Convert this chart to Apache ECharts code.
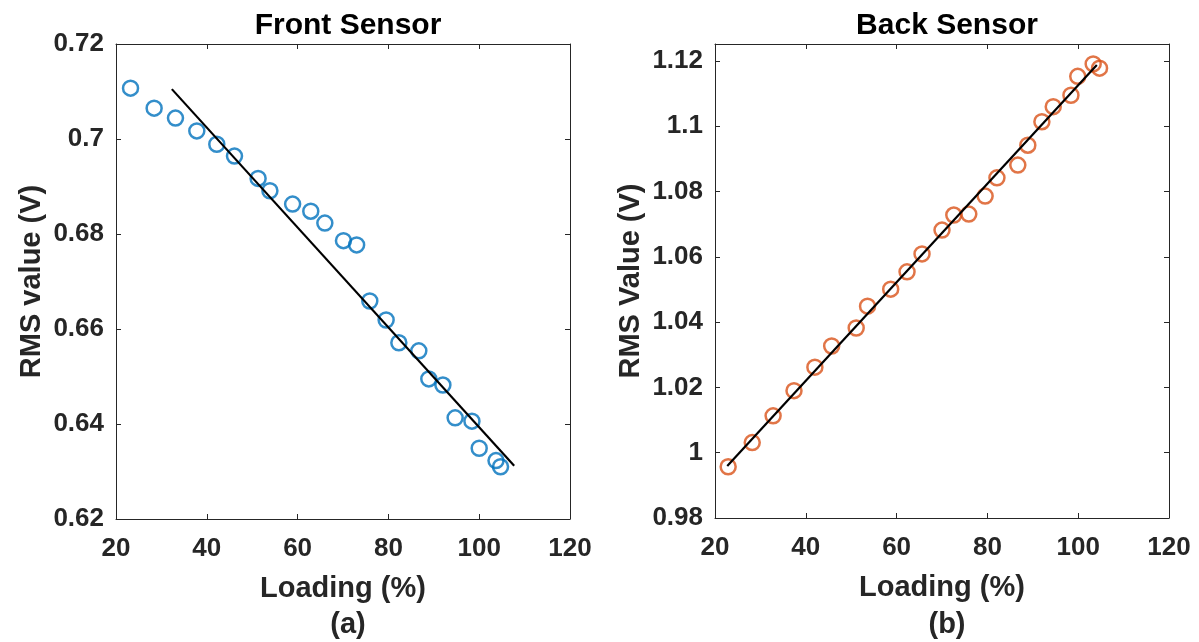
<!DOCTYPE html>
<html>
<head>
<meta charset="utf-8">
<script src="https://cdn.jsdelivr.net/npm/echarts@6/dist/echarts.min.js"></script>
<style>
html,body{margin:0;padding:0;background:#fff;}
#chart{width:1199px;height:642px;}
</style>
</head>
<body>
<div id="chart"></div>
<script>
// Front sensor (a)
var frontX = [23.2, 28.4, 33.1, 37.8, 42.2, 46.1, 51.3, 53.9, 58.9, 62.9, 66.0, 70.1, 73.0,
	75.9, 79.5, 82.3, 86.7, 88.9, 92.0, 94.7, 98.4, 100.0, 103.7, 104.7];
var frontY = [0.7107, 0.7065, 0.7044, 0.7017, 0.6989, 0.6964, 0.6917, 0.6891, 0.6863, 0.6848, 0.6823, 0.6786, 0.6777,
	0.6659, 0.6619, 0.6571, 0.6554, 0.6495, 0.6482, 0.6413, 0.6406, 0.6349, 0.6323, 0.6310];
var frontFitX = [32.3, 107.7];
var frontFitY = [0.7105, 0.6312];

// Back sensor (b)
var backX = [22.9, 28.2, 32.8, 37.4, 42.0, 45.7, 51.1, 53.6, 58.7, 62.3, 65.6, 70.0, 72.6,
	75.9, 79.5, 82.1, 86.7, 88.9, 92.0, 94.5, 98.4, 99.9, 103.3, 104.7];
var backY = [0.9957, 1.0031, 1.0113, 1.0190, 1.0262, 1.0327, 1.0382, 1.0449, 1.0501, 1.0554, 1.0609, 1.0682, 1.0728,
	1.0731, 1.0786, 1.0842, 1.0881, 1.0942, 1.1014, 1.1060, 1.1095, 1.1153, 1.1191, 1.1178];
var backFitX = [22.7, 104.1];
var backFitY = [0.9959, 1.1188];

function pairs(xs, ys) {
	var out = [];
	for (var i = 0; i < xs.length; i++) out.push([xs[i], ys[i]]);
	return out;
}

var FONT = '"Liberation Sans", Arial, sans-serif';
var AXC = '#262626';

function fmt(v) {
	return String(+v.toFixed(2));
}

// bottom / left axes carry labels, top / right ones only the box and ticks
function xAxisOf(grid, pos, name) {
	return {
		gridIndex: grid, type: 'value', position: pos, min: 20, max: 120, interval: 20,
		name: name || '', nameLocation: 'middle', nameGap: 55,
		nameTextStyle: {fontFamily: FONT, fontWeight: 'bold', fontSize: 29, color: AXC},
		axisLine: {show: true, onZero: false, lineStyle: {color: AXC, width: 1}},
		axisTick: {show: true, inside: true, length: 5, lineStyle: {color: AXC}},
		axisLabel: {show: pos == 'bottom', margin: 17, fontFamily: FONT, fontWeight: 'bold', fontSize: 26, color: AXC},
		splitLine: {show: false}
	};
}
function yAxisOf(grid, pos, min, max, name) {
	return {
		gridIndex: grid, type: 'value', position: pos, min: min, max: max, interval: 0.02,
		name: name || '', nameLocation: 'middle', nameGap: 70,
		nameTextStyle: {fontFamily: FONT, fontWeight: 'bold', fontSize: 29, color: AXC},
		axisLine: {show: true, onZero: false, lineStyle: {color: AXC, width: 1}},
		axisTick: {show: true, inside: true, length: 5, lineStyle: {color: AXC}},
		axisLabel: {
			show: pos == 'left', margin: 12, fontFamily: FONT, fontWeight: 'bold', fontSize: 26, color: AXC,
			formatter: function (v) {
				var k = Math.round((v - min) / 0.02);
				if (Math.abs(v - min - k * 0.02) > 1e-6) return '';
				return fmt(v);
			}
		},
		splitLine: {show: false}
	};
}

var myChart = echarts.init(document.getElementById('chart'));
var option = {
	animation: false,
	backgroundColor: '#fff',
	title: [
		{text: 'Front Sensor', left: 343, top: 6, textAlign: 'center',
			textStyle: {fontFamily: FONT, fontWeight: 'bold', fontSize: 30, color: '#000'}},
		{text: 'Back Sensor', left: 942, top: 6, textAlign: 'center',
			textStyle: {fontFamily: FONT, fontWeight: 'bold', fontSize: 30, color: '#000'}},
		{text: '(a)', left: 343, top: 605, textAlign: 'center',
			textStyle: {fontFamily: FONT, fontWeight: 'bold', fontSize: 29, color: AXC}},
		{text: '(b)', left: 942, top: 605, textAlign: 'center',
			textStyle: {fontFamily: FONT, fontWeight: 'bold', fontSize: 29, color: AXC}}
	],
	grid: [
		{left: 116, top: 44, width: 454, height: 475},
		{left: 715, top: 44, width: 454, height: 474}
	],
	xAxis: [
		xAxisOf(0, 'bottom', 'Loading (%)'),
		xAxisOf(0, 'top'),
		xAxisOf(1, 'bottom', 'Loading (%)'),
		xAxisOf(1, 'top')
	],
	yAxis: [
		yAxisOf(0, 'left', 0.62, 0.72, 'RMS value (V)'),
		yAxisOf(0, 'right', 0.62, 0.72),
		yAxisOf(1, 'left', 0.98, 1.1252, 'RMS Value (V)'),
		yAxisOf(1, 'right', 0.98, 1.1252)
	],
	series: [
		{
			type: 'scatter', xAxisIndex: 0, yAxisIndex: 0,
			data: pairs(frontX, frontY), symbol: 'circle', symbolSize: 15,
			itemStyle: {color: 'rgba(0,0,0,0)', borderColor: '#0072BD', borderWidth: 2.5},
			z: 3
		},
		{
			type: 'line', xAxisIndex: 0, yAxisIndex: 0,
			data: pairs(frontFitX, frontFitY), showSymbol: false, symbol: 'none',
			lineStyle: {color: '#000', width: 2.2}, z: 4
		},
		{
			type: 'scatter', xAxisIndex: 2, yAxisIndex: 2,
			data: pairs(backX, backY), symbol: 'circle', symbolSize: 15,
			itemStyle: {color: 'rgba(0,0,0,0)', borderColor: '#D95319', borderWidth: 2.5},
			z: 3
		},
		{
			type: 'line', xAxisIndex: 2, yAxisIndex: 2,
			data: pairs(backFitX, backFitY), showSymbol: false, symbol: 'none',
			lineStyle: {color: '#000', width: 2.2}, z: 4
		}
	]
};
myChart.setOption(option);
</script>
</body>
</html>
